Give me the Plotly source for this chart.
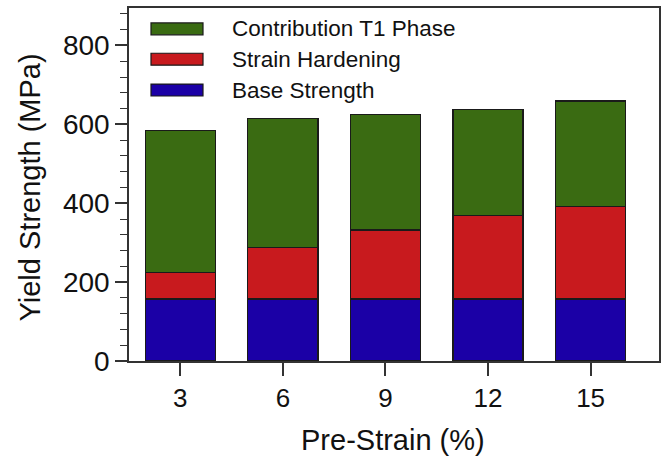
import plotly.graph_objects as go

pre_strain = [3, 6, 9, 12, 15]
base_strength = [157, 157, 157, 157, 157]
strain_hardening = [68, 130, 175, 212, 235]
t1_phase = [359, 327, 294, 269, 267]

series_names = ["Base Strength", "Strain Hardening", "Contribution T1 Phase"]
series_colors = ["#1B00A6", "#C81A1E", "#3A6B12"]
series_values = [base_strength, strain_hardening, t1_phase]

FONT = "Liberation Sans, Arial, sans-serif"

fig = go.Figure()
for name, color, vals in zip(series_names, series_colors, series_values):
    fig.add_trace(go.Bar(
        x=pre_strain, y=vals, name=name, width=2.05,
        marker=dict(color=color, line=dict(color="#1a1a1a", width=1.2)),
        showlegend=False,
    ))

L, R, T, B = 129, 9, 6, 97
W, H = 668, 458
pw, ph = W - L - R, H - T - B

def px_x(px):
    return (px - L) / pw

def px_y(py):
    return (H - B - py) / ph

# custom legend (top-left inside the frame)
legend_rows = [("Contribution T1 Phase", "#3A6B12", 27),
               ("Strain Hardening", "#C81A1E", 57.5),
               ("Base Strength", "#1B00A6", 88.5)]
for label, color, cy in legend_rows:
    fig.add_shape(type="rect", xref="paper", yref="paper",
                  x0=px_x(151), x1=px_x(203), y0=px_y(cy + 6), y1=px_y(cy - 6),
                  fillcolor=color, line=dict(color="#1a1a1a", width=1.2))
    fig.add_annotation(xref="paper", yref="paper", x=px_x(230), y=px_y(cy),
                       text=label, showarrow=False, xanchor="left", yanchor="middle",
                       font=dict(family=FONT, size=22.5, color="#111111"))

fig.add_annotation(xref="paper", yref="paper", x=px_x(30), y=px_y(186.5),
                   text="Yield Strength (MPa)", textangle=-90, showarrow=False,
                   xanchor="center", yanchor="middle",
                   font=dict(family=FONT, size=29, color="#111111"))
fig.add_annotation(xref="paper", yref="paper", x=px_x(393), y=px_y(440),
                   text="Pre-Strain (%)", showarrow=False,
                   xanchor="center", yanchor="middle",
                   font=dict(family=FONT, size=29, color="#111111"))

fig.update_layout(
    barmode="stack",
    width=W, height=H,
    margin=dict(l=L, r=R, t=T, b=B),
    paper_bgcolor="white", plot_bgcolor="white",
    font=dict(family=FONT, color="#111111"),
)
fig.update_xaxes(
    range=[1.5, 17], tickvals=pre_strain, ticktext=[str(v) for v in pre_strain],
    showline=True, linecolor="#333333", linewidth=1.5, mirror=True,
    ticks="outside", ticklen=13, tickwidth=1.5, tickcolor="#333333",
    showgrid=False, zeroline=False,
    tickfont=dict(family=FONT, size=26, color="#111111"),
)
fig.update_yaxes(
    range=[0, 895], dtick=200, tick0=0,
    showline=True, linecolor="#333333", linewidth=1.5, mirror=True,
    ticks="outside", ticklen=12, tickwidth=1.5, tickcolor="#333333",
    minor=dict(dtick=40, ticks="outside", ticklen=7, tickwidth=1.2, tickcolor="#333333", showgrid=False),
    showgrid=False, zeroline=False,
    tickfont=dict(family=FONT, size=28, color="#111111"),
)

fig.write_html(
    "out.html",
    config={"displayModeBar": False},
    post_script="document.body.style.margin='0';document.body.style.overflow='hidden';",
)
